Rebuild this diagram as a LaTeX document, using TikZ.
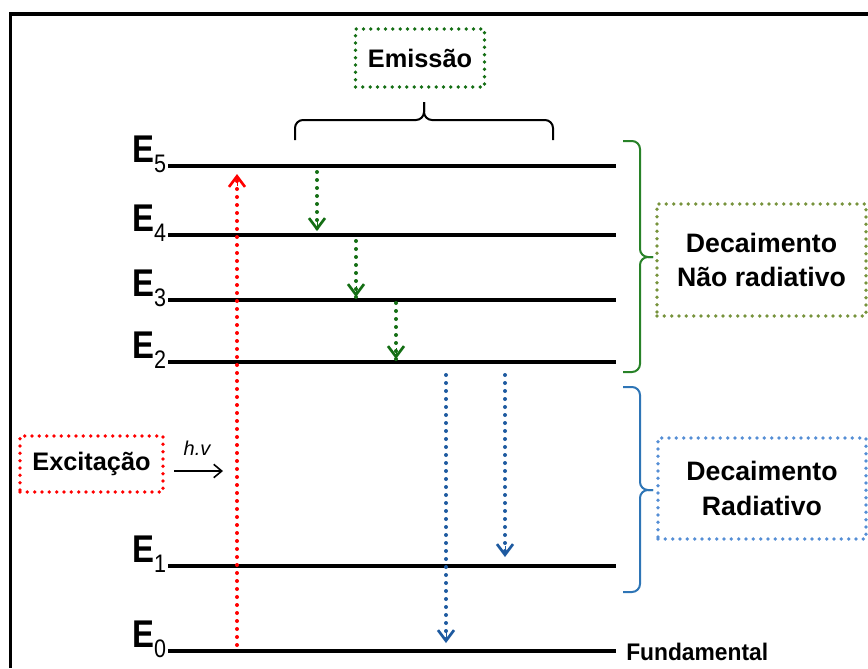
\documentclass[tikz,border=0pt]{standalone}
\usepackage{fontspec}
\usepackage{graphicx}
\setmainfont{Liberation Sans}
\usetikzlibrary{arrows.meta}
\definecolor{cred}{RGB}{255,0,0}
\definecolor{cgreen}{RGB}{20,110,20}
\definecolor{cbrgreen}{RGB}{40,130,40}
\definecolor{colive}{RGB}{119,147,60}
\definecolor{cblue}{RGB}{30,90,160}
\definecolor{clblue}{RGB}{85,142,213}
\definecolor{cbrblue}{RGB}{46,117,182}
\tikzset{
  level/.style={line width=3pt},
  dotline/.style={line width=3pt, dash pattern=on 0pt off 6pt, line cap=round},
  tipdown/.style={-{Straight Barb[length=8pt,width=12pt,line width=2pt]}},
  dotbox/.style={line width=2.8pt, dash pattern=on 0pt off 5.5pt, line cap=round, rectangle, inner sep=0pt},
  elabel/.style={anchor=base west, inner sep=0pt},
  bracket/.style={line width=1.5pt, rounded corners=6},
  btext/.style={font=\bfseries\fontsize{20}{26}\selectfont, align=center}
}
\newcommand{\elev}[1]{\scalebox{0.85}[1]{{\bfseries\fontsize{29}{29}\selectfont E}\raisebox{-7.5pt}{\fontsize{19}{19}\selectfont #1}}}
\begin{document}
\begin{tikzpicture}[x=0.75pt,y=-0.75pt]
\useasboundingbox (0,0) rectangle (868,668);
% frame
\draw[line width=2.4pt] (10.5,668) -- (10.5,14) -- (868,14);
% levels
\foreach \n/\y in {5/166,4/235,3/300,2/362,1/566,0/651}{
  \coordinate (L\n a) at (168,\y);
  \coordinate (L\n b) at (616,\y);
  \draw[level] (L\n a) -- (L\n b);
  \node[elabel] (E\n) at (132,\y-4) {\elev{\n}};
}
\node[anchor=base west, inner sep=0pt, font=\bfseries\fontsize{18}{18}\selectfont] (fund) at (626,660) {\scalebox{0.95}[1]{Fundamental}};
% excitation arrow
\coordinate (r0) at (237,645);
\coordinate (r1) at (237,174);
\draw[cred, dotline] (r0) -- (r1);
\draw[cred, -{Straight Barb[length=8pt,width=12pt,line width=2pt]}] (237,186) -- (r1);
% green arrows
\foreach \i/\x/\ya/\yb in {1/317/172/231,2/356/241/297,3/396/303/359}{
  \coordinate (ga\i) at (\x,\ya);
  \coordinate (gb\i) at (\x,\yb);
  \draw[cgreen, dotline] (ga\i) -- (gb\i);
  \draw[cgreen, tipdown] (\x,\yb-11) -- (gb\i);
}
% blue arrows
\foreach \i/\x/\ya/\yb in {1/446/375/643,2/505/375/557}{
  \coordinate (ba\i) at (\x,\ya);
  \coordinate (bb\i) at (\x,\yb);
  \draw[cblue, dotline] (ba\i) -- (bb\i);
  \draw[cblue, tipdown] (\x,\yb-11) -- (bb\i);
}
% Emission bracket
\draw[bracket] (295,140) -- (295,120) -- (424,120) -- (424,102);
\draw[bracket] (553,140) -- (553,120) -- (424,120) -- (424,102);
% side braces
\draw[bracket, cbrgreen] (623,141) -- (640,141) -- (640,257) -- (653,257);
\draw[bracket, cbrgreen] (623,372) -- (640,372) -- (640,257) -- (653,257);
\draw[bracket, cbrblue] (623,387) -- (640,387) -- (640,490) -- (653,490);
\draw[bracket, cbrblue] (623,592) -- (640,592) -- (640,490) -- (653,490);
% boxes
\node[dotbox, draw=cgreen, minimum width=129*0.75pt, minimum height=58*0.75pt, font=\bfseries\fontsize{19}{19}\selectfont] (emi) at (420,58) {Emissão};
\node[dotbox, draw=cred, minimum width=143*0.75pt, minimum height=56*0.75pt, font=\bfseries\fontsize{19}{19}\selectfont] (exc) at (91.5,464) {Excitação};
\node[dotbox, draw=colive, minimum width=209*0.75pt, minimum height=112*0.75pt, btext] (nrad) at (761.5,260) {Decaimento\\Não radiativo};
\node[dotbox, draw=clblue, minimum width=208*0.75pt, minimum height=101*0.75pt, btext] (rad) at (762,488.5) {Decaimento\\Radiativo};
% h.v
\node[inner sep=0pt, font=\itshape\fontsize{15}{15}\selectfont] (hv) at (197,448) {h.v};
\coordinate (h0) at (174,471);
\coordinate (h1) at (223,471);
\draw[line width=1.2pt, -{Straight Barb[length=6pt,width=10pt,line width=1.2pt]}] (h0) -- (h1);
\end{tikzpicture}
\end{document}
